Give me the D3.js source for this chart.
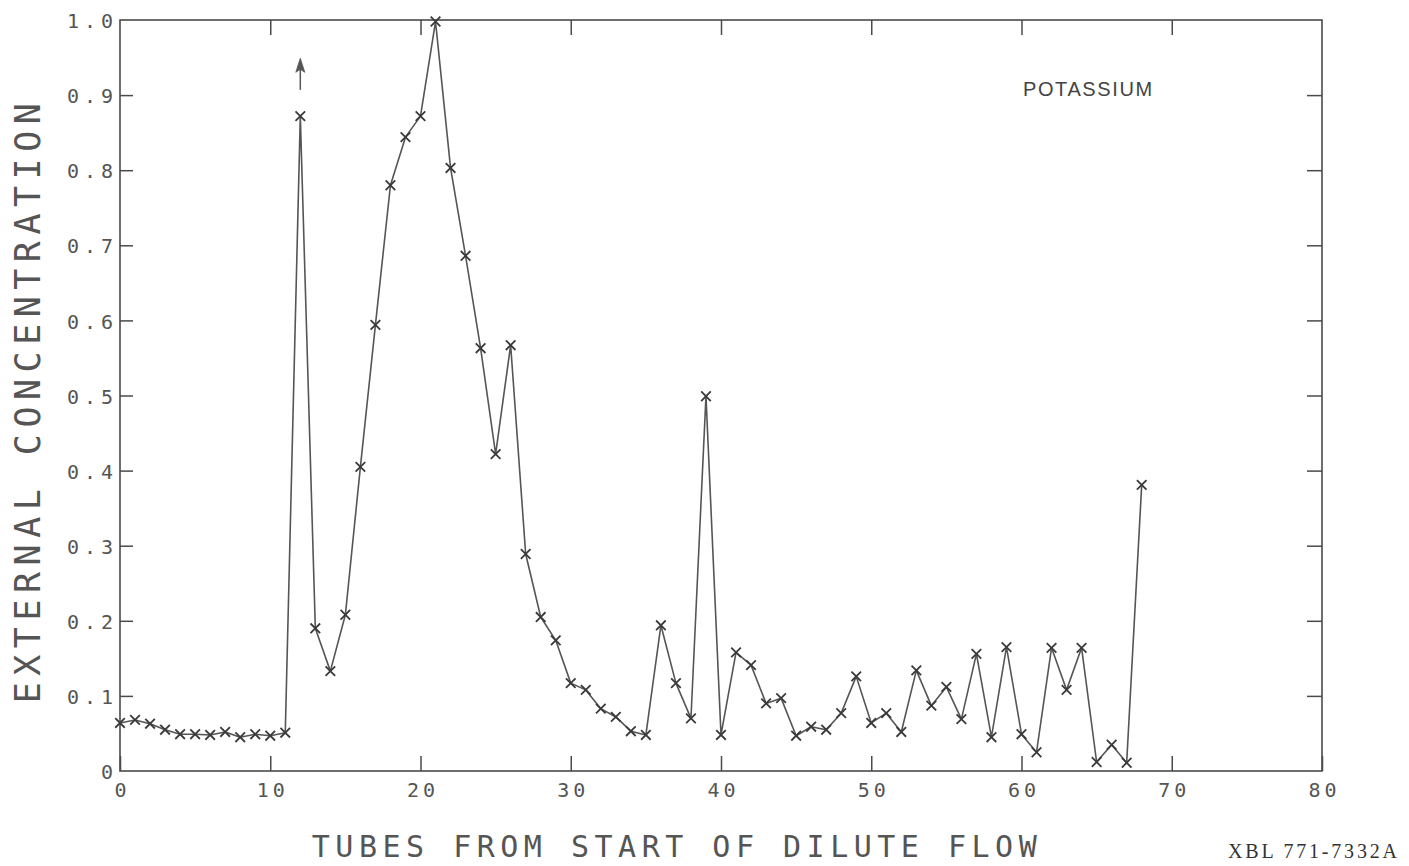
<!DOCTYPE html>
<html>
<head>
<meta charset="utf-8">
<script src="https://cdn.jsdelivr.net/npm/d3@7"></script>
<style>
  body { margin: 0; background: #fff; }
  svg { display: block; }
  .plot text { font-family: "DejaVu Sans Mono", monospace; fill: #555; }
</style>
</head>
<body>
<div id="chart"></div>
<script>
const width = 1409;
const height = 866;

// tube number and external concentration
const tubes = d3.range(0, 69);
const concentration = [
  0.064, 0.068, 0.063, 0.055, 0.049, 0.049, 0.048, 0.052, 0.045, 0.049,
  0.047, 0.051, 0.872, 0.190, 0.133, 0.208, 0.405, 0.594, 0.780, 0.844,
  0.872, 0.998, 0.803, 0.686, 0.563, 0.422, 0.567, 0.289, 0.205, 0.174,
  0.117, 0.108, 0.083, 0.072, 0.053, 0.048, 0.194, 0.117, 0.070, 0.499,
  0.048, 0.158, 0.141, 0.090, 0.097, 0.047, 0.059, 0.055, 0.077, 0.126,
  0.064, 0.077, 0.052, 0.134, 0.087, 0.112, 0.069, 0.156, 0.045, 0.165,
  0.049, 0.025, 0.164, 0.108, 0.164, 0.012, 0.035, 0.011, 0.381
];
// off-scale marker drawn above tube 12
const arrowTube = 12;
const arrowFrom = 0.907;
const arrowTo = 0.949;

const xTicks = [0, 10, 20, 30, 40, 50, 60, 70, 80];
const yTicks = [0, 0.1, 0.2, 0.3, 0.4, 0.5, 0.6, 0.7, 0.8, 0.9, 1.0];
const yTickLabels = ["0", "0.1", "0.2", "0.3", "0.4", "0.5", "0.6", "0.7", "0.8", "0.9", "1.0"];

const data = tubes.map((t, i) => ({ tube: t, value: concentration[i] }));

const svg = d3.select("#chart").append("svg")
  .attr("width", width)
  .attr("height", height)
  .attr("class", "plot");

const x = d3.scaleLinear().domain([0, 80]).range([120, 1322]);
const y = d3.scaleLinear().domain([0, 1]).range([771, 20]);

const ink = "#4a4a4a";

// frame
svg.append("rect")
  .attr("x", x(0)).attr("y", y(1))
  .attr("width", x(80) - x(0)).attr("height", y(0) - y(1))
  .attr("fill", "none").attr("stroke", ink).attr("stroke-width", 1.6);

// axes, ticks pointing inward
function styleAxis(g) {
  g.select(".domain").remove();
  g.selectAll(".tick line").attr("stroke", ink).attr("stroke-width", 1.5);
}

svg.append("g")
  .attr("transform", `translate(0,${y(0)})`)
  .call(d3.axisBottom(x).tickValues(xTicks).tickSize(-15).tickPadding(0).tickFormat(d => d))
  .call(styleAxis)
  .call(g => g.selectAll(".tick text")
    .attr("y", 26).attr("dy", 0)
    .attr("font-size", 20).attr("letter-spacing", 4).attr("dx", 2)
    .attr("font-family", "DejaVu Sans Mono").attr("fill", "#555"));

svg.append("g")
  .attr("transform", `translate(0,${y(1)})`)
  .call(d3.axisTop(x).tickValues(xTicks.slice(1, -1)).tickSize(-15).tickFormat(""))
  .call(styleAxis);

svg.append("g")
  .attr("transform", `translate(${x(0)},0)`)
  .call(d3.axisLeft(y).tickValues(yTicks)
    .tickSize(-13).tickPadding(0)
    .tickFormat((d, i) => yTickLabels[i]))
  .call(styleAxis)
  .call(g => g.selectAll(".tick text")
    .attr("x", -2).attr("dy", "0.38em")
    .attr("font-size", 20).attr("letter-spacing", 5)
    .attr("font-family", "DejaVu Sans Mono").attr("fill", "#555"))
  .call(g => g.selectAll(".tick line").filter(d => d === 0 || d === 1).remove());

svg.append("g")
  .attr("transform", `translate(${x(80)},0)`)
  .call(d3.axisRight(y).tickValues(yTicks.slice(1, -1)).tickSize(-15).tickFormat(""))
  .call(styleAxis);

// data line
svg.append("path")
  .datum(data)
  .attr("fill", "none")
  .attr("stroke", "#555")
  .attr("stroke-width", 1.6)
  .attr("stroke-linejoin", "round")
  .attr("d", d3.line().x(d => x(d.tube)).y(d => y(d.value)));

// x markers
svg.append("g").selectAll("path")
  .data(data)
  .join("path")
  .attr("transform", d => `translate(${x(d.tube)},${y(d.value)})`)
  .attr("d", d3.symbol().type(d3.symbolX).size(62))
  .attr("fill", "none")
  .attr("stroke", "#3a3a3a")
  .attr("stroke-width", 1.8);

// arrow for the off-scale value
const ax = x(arrowTube);
svg.append("line")
  .attr("x1", ax).attr("x2", ax)
  .attr("y1", y(arrowFrom)).attr("y2", y(arrowTo) + 6)
  .attr("stroke", "#555").attr("stroke-width", 1.5);
svg.append("path")
  .attr("d", `M${ax},${y(arrowTo)} L${ax - 4.5},${y(arrowTo) + 14} L${ax},${y(arrowTo) + 11} L${ax + 4.5},${y(arrowTo) + 14} Z`)
  .attr("fill", "#555").attr("stroke", "#555").attr("stroke-width", 0.8);

// labels
svg.append("text")
  .attr("x", 1023).attr("y", 96)
  .attr("font-size", 20).attr("letter-spacing", 1.6)
  .style("fill", "#444")
  .style("font-family", "Liberation Sans, Arial, sans-serif")
  .text("POTASSIUM");

svg.append("text")
  .attr("x", 677).attr("y", 857)
  .attr("text-anchor", "middle")
  .attr("font-size", 30).attr("letter-spacing", 5.5)
  .text("TUBES FROM START OF DILUTE FLOW");

svg.append("text")
  .attr("transform", `translate(40,400) rotate(-90)`)
  .attr("text-anchor", "middle")
  .attr("font-size", 35).attr("letter-spacing", 6.5)
  .text("EXTERNAL CONCENTRATION");

svg.append("text")
  .attr("x", 1228).attr("y", 858)
  .style("font-family", "Liberation Serif, serif")
  .attr("font-size", 20).attr("letter-spacing", 2.8)
  .style("fill", "#333")
  .text("XBL 771-7332A");
</script>
</body>
</html>
